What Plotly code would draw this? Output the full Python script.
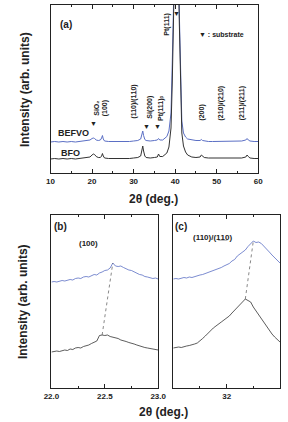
import plotly.graph_objects as go

# ---------------- data ----------------
# panel (a): full scan
a_x = [10, 11, 12, 13, 14, 15, 16, 17, 18, 19, 19.5, 20, 20.3, 20.6, 21, 21.5, 22, 22.3, 22.5, 22.7, 23,
       24, 25, 26, 27, 28, 29, 30, 31, 31.7, 32, 32.2, 32.4, 32.7, 33, 34, 35, 35.7, 36, 36.3, 37, 37.5,
       38, 38.5, 39, 39.3, 39.6, 39.8, 40, 40.3, 40.6, 41, 41.3, 41.6, 42, 42.5, 43, 44, 45, 46, 46.3,
       46.6, 47, 48, 49, 50, 51, 52, 53, 54, 55, 56, 57, 57.3, 57.6, 58, 59, 60]
a_bfo = [14, 14.5, 14, 14.5, 14, 14.5, 14, 14.5, 14.5, 15, 16, 18, 19, 18.5, 16.5, 15.5, 15.5, 17, 19.5, 17, 15,
         14.5, 14.5, 14, 14.5, 14.5, 14.5, 15, 15.5, 17, 22, 27, 22, 17, 15.5, 15, 15.5, 16, 19, 16.5, 16.5, 18,
         20, 26, 45, 90, 200, 300, 300, 300, 250, 150, 80, 40, 27, 21, 18, 16, 15.5, 16, 18,
         16.5, 15.5, 15, 15, 14.5, 15, 15, 14.5, 14.5, 14.5, 15, 16, 18, 16.5, 15, 14.5, 14.5]
a_befvo = [31, 31.5, 31, 31.5, 31, 31.5, 31, 31.5, 31.5, 32, 33, 34.5, 35, 34.5, 33, 32.5, 33, 35, 37.5, 34, 32,
           31.5, 31.5, 31, 31.5, 31.5, 31.5, 32, 32.5, 34, 38, 42, 37.5, 33.5, 32.5, 32, 32.5, 33, 34.5, 33, 33, 34.5,
           36.5, 42, 60, 110, 220, 300, 300, 300, 260, 160, 90, 52, 40, 36, 34, 33, 32.5, 32.5, 33.5,
           32.5, 32, 31.5, 31.5, 31.5, 32, 31.5, 31.5, 31.5, 31.5, 32, 33, 34.5, 33, 32, 31.5, 31.5]

# panel (b): (100) region
b_x = [22.0, 22.025, 22.05, 22.075, 22.1, 22.125, 22.15, 22.175, 22.2, 22.225, 22.25, 22.275, 22.3, 22.325,
       22.35, 22.375, 22.4, 22.425, 22.45, 22.475, 22.5, 22.525, 22.55, 22.575, 22.6, 22.625, 22.65, 22.675,
       22.7, 22.725, 22.75, 22.775, 22.8, 22.825, 22.85, 22.875, 22.9, 22.925, 22.95, 22.975, 23.0]
b_befvo = [106, 106.5, 106, 107, 107.5, 107, 108, 108.5, 108, 109.5, 110, 109.5, 111, 111.5, 111, 112.5, 113.5,
           113, 115, 116, 117.5, 118, 120, 125, 122, 121.5, 122, 120.5, 119, 118, 117.5, 116, 114.5, 113.5, 113,
           111.5, 111, 110.5, 109.5, 110, 109]
b_bfo = [36, 36.5, 37, 36.5, 37.5, 38, 37.5, 39, 38.5, 40, 40.5, 40, 41.5, 42, 43, 44.5, 45.5, 47, 52.5, 53, 52.5,
         53, 51.5, 51, 50, 49.5, 48, 47.5, 46.5, 45.5, 45, 44, 43, 42, 41.5, 40.5, 40, 39.5, 39, 38.5, 38]
b_link_x = [22.475, 22.575]
b_link_y = [53, 125]

# panel (c): (110)/(1-10) region
c_x = [31.5, 31.525, 31.55, 31.575, 31.6, 31.625, 31.65, 31.675, 31.7, 31.725, 31.75, 31.775, 31.8, 31.825,
       31.85, 31.875, 31.9, 31.925, 31.95, 31.975, 32.0, 32.025, 32.05, 32.075, 32.1, 32.125, 32.15, 32.175,
       32.2, 32.225, 32.25, 32.275, 32.3, 32.325, 32.35, 32.375, 32.4, 32.425, 32.45, 32.475, 32.5]
c_befvo = [109, 109.5, 109, 110, 110.5, 110, 111, 110.5, 111.5, 112, 113, 113.5, 114.5, 115, 116.5, 117, 118.5,
           119.5, 120.5, 122, 123, 124.5, 127, 128.5, 132, 134, 136.5, 138, 141.5, 144, 147, 145.5, 146, 144.5,
           142, 139.5, 136, 133, 130, 127.5, 125]
c_bfo = [40, 40.5, 41, 40.5, 41.5, 42, 42.5, 43, 44, 45, 47, 49.5, 52, 55, 57.5, 60, 62, 64.5, 66, 68, 70, 72,
         75, 78, 80.5, 84, 87, 89, 87.5, 86, 81, 77, 73, 69, 65, 61, 57, 54, 51, 48, 46]
c_link_x = [32.175, 32.25]
c_link_y = [89, 147]

BLUE = "#5b6fc4"
DARK = "#333333"
FONT = "Liberation Sans"

W, H = 288, 422
def px(x):
    return x / W
def py(y):
    return 1 - y / H

fig = go.Figure()
fig.add_trace(go.Scatter(x=a_x, y=a_befvo, mode="lines", line=dict(color=BLUE, width=1), xaxis="x", yaxis="y"))
fig.add_trace(go.Scatter(x=a_x, y=a_bfo, mode="lines", line=dict(color=DARK, width=1), xaxis="x", yaxis="y"))
fig.add_trace(go.Scatter(x=b_x, y=b_befvo, mode="lines", line=dict(color=BLUE, width=0.8), xaxis="x2", yaxis="y2"))
fig.add_trace(go.Scatter(x=b_x, y=b_bfo, mode="lines", line=dict(color=DARK, width=0.8), xaxis="x2", yaxis="y2"))
fig.add_trace(go.Scatter(x=b_link_x, y=b_link_y, mode="lines", line=dict(color="#555", width=0.7, dash="dot"), xaxis="x2", yaxis="y2"))
fig.add_trace(go.Scatter(x=c_x, y=c_befvo, mode="lines", line=dict(color=BLUE, width=0.8), xaxis="x3", yaxis="y3"))
fig.add_trace(go.Scatter(x=c_x, y=c_bfo, mode="lines", line=dict(color=DARK, width=0.8), xaxis="x3", yaxis="y3"))
fig.add_trace(go.Scatter(x=c_link_x, y=c_link_y, mode="lines", line=dict(color="#555", width=0.7, dash="dot"), xaxis="x3", yaxis="y3"))

tickfont = dict(family=FONT, size=8, color="#222", weight="bold")
axcommon = dict(showline=True, linecolor="#222", linewidth=1, mirror="ticks", ticks="inside",
                ticklen=4, tickcolor="#222", showgrid=False, zeroline=False, tickfont=tickfont)

fig.update_layout(
    width=W, height=H, margin=dict(l=0, r=0, t=0, b=0),
    paper_bgcolor="white", plot_bgcolor="white", showlegend=False,
    xaxis=dict(domain=[px(45), px(265)], range=[10, 60], anchor="y", tickvals=[10, 20, 30, 40, 50, 60],
               minor=dict(ticks="inside", ticklen=2, tickcolor="#222", dtick=5, tick0=10), **axcommon),
    yaxis=dict(domain=[py(173), py(5)], range=[0, 168], anchor="x", showticklabels=False,
               showline=True, linecolor="#222", linewidth=1, mirror=True, ticks="", showgrid=False, zeroline=False),
    xaxis2=dict(domain=[px(46), px(159)], range=[22.0, 23.0], anchor="y2", tickvals=[22.0, 22.5, 23.0],
                tickformat=".1f", minor=dict(ticks="inside", ticklen=2, tickcolor="#222", dtick=0.25, tick0=22.0),
                **axcommon),
    yaxis2=dict(domain=[py(388), py(215)], range=[0, 173], anchor="x2", showticklabels=False,
                showline=True, linecolor="#222", linewidth=1, mirror=True, ticks="", showgrid=False, zeroline=False),
    xaxis3=dict(domain=[px(175), 1.0], range=[31.5, 32.5], anchor="y3", tickvals=[32],
                minor=dict(ticks="inside", ticklen=2, tickcolor="#222", dtick=0.25, tick0=31.5), **axcommon),
    yaxis3=dict(domain=[py(388), py(215)], range=[0, 173], anchor="x3", showticklabels=False,
                showline=True, linecolor="#222", linewidth=1, mirror=True, ticks="", showgrid=False, zeroline=False),
)

def note(text, x, y, size=8, angle=0, xanchor="center", yanchor="middle", bold=True, italic=False):
    fig.add_annotation(text=text, x=px(x), y=py(y), xref="paper", yref="paper", showarrow=False,
                       textangle=angle, xanchor=xanchor, yanchor=yanchor,
                       font=dict(family=FONT, size=size, color="#222", weight="bold" if bold else "normal",
                                 style="italic" if italic else "normal"))

UL = "\u0332"  # combining low line (bar notation)
# axis titles
note("Intensity (arb. units)", 18, 90, size=12, angle=-90)
note("Intensity (arb. units)", 16, 302, size=12, angle=-90)
note("2θ (deg.)", 154, 199, size=12)
note("2θ (deg.)", 165, 412, size=12)

# panel (a) labels
note("(a)", 61, 24, size=10)
note("BEFVO", 69, 133, size=9)
note("BFO", 66, 153, size=9)
note("▼", 90, 124, size=7)
note("SiO₂", 94, 108, size=7, angle=-90)
note("(100)", 103, 108, size=7, angle=-90)
note("(110)/(1" + UL + "1" + UL + "0)", 133, 102, size=7, angle=-90)
note("▼", 147, 127, size=7)
note("Si(200)", 150, 107, size=7, angle=-90)
note("▼", 158, 127, size=7)
note("Pt(111)ᵦ", 162, 108, size=7, angle=-90)
note("Pt(111)", 168, 24, size=7, angle=-90)
note("▼", 178, 13, size=7)
note("▼ : substrate", 226, 34, size=7)
note("(200)", 205, 113, size=7, angle=-90)
note("(210)/(2" + UL + "1" + UL + "0)", 225, 103, size=7, angle=-90)
note("(211)/(2" + UL + "1" + UL + "1)", 248, 103, size=7, angle=-90)

# panel (b), (c) labels
note("(b)", 56, 227, size=10)
note("(100)", 85, 243, size=8)
note("(c)", 183, 227, size=10)
note("(110)/(1" + UL + "1" + UL + "0)", 217, 237, size=8)

fig.write_html("out.html")
